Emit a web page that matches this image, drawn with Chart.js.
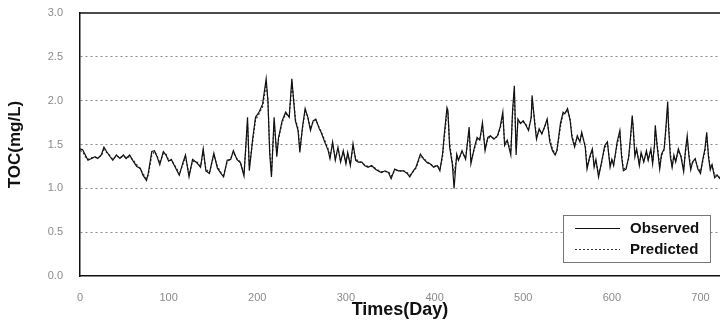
<!DOCTYPE html>
<html>
<head>
<meta charset="utf-8">
<script src="https://cdn.jsdelivr.net/npm/chart.js@4.4.0/dist/chart.umd.min.js"></script>
<style>
  body { margin: 0; background: #fff; }
  #wrap { width: 720px; height: 328px; }
</style>
</head>
<body>
<div id="wrap"><canvas id="tocChart" width="720" height="328"></canvas></div>
<script>
const days = [0,3,6,9,13,17,20,24,27,30,34,37,41,45,49,52,56,60,64,68,71,75,77,81,84,87,90,94,97,100,
  103,107,110,112,116,119,123,127,132,136,139,142,146,151,155,159,162,166,170,173,177,181,185,189,191,195,198,202,206,210,
  212,214,216,219,222,224,228,232,236,239,241,243,246,248,251,254,257,260,263,266,270,272,276,280,282,285,288,291,294,297,
  300,302,305,308,311,314,318,321,325,329,333,336,340,344,348,351,355,359,363,365,369,372,376,379,382,384,388,392,395,399,
  403,406,409,411,414,415,417,420,422,425,427,431,435,439,441,445,448,451,454,457,460,463,467,471,474,477,479,482,486,488,
  490,492,494,497,500,503,506,509,510,513,515,518,521,524,527,530,533,536,538,542,545,547,550,553,555,558,561,564,566,570,
  572,575,578,580,582,585,588,592,595,598,600,602,606,609,611,613,616,619,621,623,624,626,628,631,633,636,639,641,644,646,
  648,649,651,654,656,659,661,663,664,666,668,670,672,675,678,681,683,685,687,689,691,694,697,700,702,705,707,709,711,713,
  716,719,721,724];

const observed = [1.45,1.44,1.38,1.32,1.34,1.36,1.34,1.38,1.47,1.42,1.36,1.32,1.38,1.34,1.38,1.34,1.38,1.31,1.25,1.23,1.15,1.09,1.17,1.42,1.43,1.36,1.27,1.42,1.38,1.31,
  1.33,1.25,1.19,1.15,1.29,1.38,1.13,1.33,1.29,1.24,1.45,1.20,1.17,1.40,1.23,1.17,1.13,1.32,1.33,1.43,1.33,1.29,1.14,1.81,1.20,1.58,1.81,1.87,1.96,2.25,
  2.00,1.40,1.13,1.81,1.36,1.58,1.77,1.87,1.81,2.25,2.00,1.77,1.66,1.41,1.70,1.91,1.81,1.66,1.77,1.79,1.68,1.64,1.53,1.43,1.34,1.53,1.32,1.47,1.30,1.43,
  1.28,1.41,1.26,1.51,1.32,1.30,1.30,1.26,1.24,1.26,1.22,1.20,1.18,1.20,1.18,1.11,1.22,1.20,1.20,1.20,1.17,1.13,1.20,1.24,1.33,1.39,1.33,1.29,1.28,1.24,
  1.26,1.20,1.39,1.62,1.92,1.89,1.47,1.28,1.00,1.39,1.32,1.43,1.33,1.70,1.28,1.47,1.58,1.55,1.75,1.43,1.58,1.60,1.56,1.60,1.70,1.87,1.49,1.55,1.38,1.89,
  2.17,1.38,1.79,1.74,1.77,1.72,1.66,1.81,2.06,1.74,1.56,1.68,1.62,1.70,1.79,1.53,1.43,1.38,1.43,1.74,1.87,1.85,1.91,1.77,1.58,1.47,1.60,1.53,1.64,1.47,
  1.22,1.36,1.45,1.24,1.33,1.13,1.28,1.49,1.53,1.24,1.33,1.26,1.53,1.66,1.36,1.20,1.22,1.36,1.58,1.83,1.70,1.36,1.45,1.26,1.41,1.30,1.43,1.32,1.45,1.28,
  1.49,1.72,1.49,1.22,1.39,1.45,1.70,1.99,1.70,1.36,1.24,1.38,1.30,1.45,1.36,1.19,1.43,1.60,1.36,1.21,1.30,1.34,1.22,1.17,1.30,1.45,1.64,1.36,1.21,1.27,
  1.12,1.15,1.12,1.09];

const predicted = [1.43,1.42,1.36,1.33,1.35,1.35,1.35,1.37,1.44,1.41,1.37,1.33,1.37,1.35,1.37,1.35,1.36,1.32,1.27,1.22,1.17,1.11,1.15,1.38,1.42,1.37,1.29,1.40,1.39,1.32,
  1.32,1.26,1.21,1.16,1.27,1.36,1.16,1.31,1.30,1.25,1.42,1.22,1.18,1.38,1.25,1.18,1.15,1.30,1.34,1.41,1.34,1.30,1.17,1.74,1.25,1.55,1.78,1.85,1.93,2.18,
  2.02,1.45,1.16,1.75,1.40,1.56,1.75,1.85,1.82,2.19,2.03,1.79,1.68,1.45,1.68,1.88,1.82,1.68,1.76,1.78,1.69,1.65,1.55,1.45,1.36,1.50,1.34,1.45,1.32,1.41,
  1.30,1.39,1.28,1.47,1.34,1.31,1.29,1.27,1.25,1.25,1.23,1.21,1.19,1.19,1.19,1.14,1.20,1.21,1.19,1.20,1.18,1.15,1.19,1.23,1.31,1.37,1.34,1.30,1.28,1.25,
  1.26,1.22,1.36,1.58,1.86,1.88,1.52,1.30,1.18,1.35,1.33,1.41,1.35,1.65,1.32,1.45,1.56,1.56,1.70,1.46,1.56,1.59,1.57,1.59,1.68,1.82,1.53,1.54,1.42,1.84,
  2.10,1.45,1.76,1.75,1.76,1.73,1.68,1.79,2.00,1.77,1.59,1.66,1.63,1.69,1.77,1.56,1.45,1.39,1.42,1.70,1.85,1.86,1.89,1.79,1.61,1.49,1.58,1.54,1.62,1.49,
  1.26,1.34,1.43,1.27,1.32,1.16,1.27,1.46,1.52,1.27,1.32,1.27,1.50,1.63,1.39,1.23,1.22,1.34,1.55,1.78,1.72,1.40,1.44,1.28,1.39,1.31,1.41,1.33,1.43,1.30,
  1.47,1.67,1.52,1.25,1.37,1.44,1.66,1.92,1.74,1.40,1.26,1.36,1.31,1.43,1.37,1.22,1.40,1.56,1.39,1.24,1.29,1.33,1.24,1.19,1.28,1.42,1.60,1.39,1.24,1.26,
  1.15,1.15,1.13,1.11];

const xTicks = [0, 100, 200, 300, 400, 500, 600, 700];
const yTicks = [0, 0.5, 1.0, 1.5, 2.0, 2.5, 3.0];

const tickColor = '#8a8a8a';
const tickFont = { family: 'Liberation Sans, Arial, sans-serif', size: 11 };
const titleFont = { family: 'Liberation Sans, Arial, sans-serif', weight: 'bold' };

// top frame line + boxed legend in the lower right of the plot
const framePlugin = {
  id: 'frame',
  afterDraw(chart) {
    const { ctx, chartArea } = chart;
    ctx.save();
    ctx.strokeStyle = '#111';
    ctx.lineWidth = 1.5;
    ctx.beginPath();
    ctx.moveTo(chartArea.left, chartArea.top);
    ctx.lineTo(chartArea.right, chartArea.top);
    ctx.stroke();

    const bx = chartArea.right - 157, by = chartArea.bottom - 61;
    ctx.fillStyle = '#fff';
    ctx.fillRect(bx, by, 147, 47);
    ctx.strokeStyle = '#777';
    ctx.lineWidth = 1;
    ctx.strokeRect(bx + 0.5, by + 0.5, 147, 47);

    chart.data.datasets.forEach((ds, i) => {
      const ly = by + 13 + i * 21;
      ctx.strokeStyle = ds.borderColor;
      ctx.lineWidth = 1;
      ctx.setLineDash(ds.borderDash || []);
      ctx.beginPath();
      ctx.moveTo(bx + 12, ly + 0.5);
      ctx.lineTo(bx + 57, ly + 0.5);
      ctx.stroke();
      ctx.setLineDash([]);
      ctx.fillStyle = '#111';
      ctx.font = 'bold 15px "Liberation Sans", Arial, sans-serif';
      ctx.textBaseline = 'middle';
      ctx.fillText(ds.label, bx + 67, ly + 1);
    });
    ctx.restore();
  }
};

new Chart(document.getElementById('tocChart'), {
  type: 'line',
  data: {
    datasets: [
      {
        label: 'Observed',
        data: days.map((d, i) => ({ x: d, y: observed[i] })),
        borderColor: '#111',
        borderWidth: 1.2,
        pointRadius: 0,
        pointHoverRadius: 0,
        tension: 0
      },
      {
        label: 'Predicted',
        data: days.map((d, i) => ({ x: d, y: predicted[i] })),
        borderColor: '#333',
        borderWidth: 1.2,
        borderDash: [2, 2],
        pointRadius: 0,
        pointHoverRadius: 0,
        tension: 0
      }
    ]
  },
  options: {
    responsive: false,
    animation: false,
    layout: { autoPadding: false, padding: { top: 13, right: 0, left: 0, bottom: 0 } },
    plugins: { legend: { display: false }, tooltip: { enabled: false } },
    scales: {
      x: {
        type: 'linear',
        min: 0,
        max: 722,
        afterBuildTicks: s => { s.ticks = xTicks.map(v => ({ value: v })); },
        afterFit: s => { s.height = 52; s.paddingRight = 0; },
        grid: { display: false, drawTicks: false },
        border: { display: true, color: '#111', width: 1.5 },
        ticks: { color: tickColor, font: tickFont, padding: 15, maxRotation: 0 },
        title: { display: true, text: 'Times(Day)', color: '#111', font: { ...titleFont, size: 18 }, padding: { top: 0, bottom: 7 } }
      },
      y: {
        min: 0,
        max: 3,
        afterBuildTicks: s => { s.ticks = yTicks.map(v => ({ value: v })); },
        afterFit: s => { s.width = 80; s.paddingTop = 0; },
        grid: {
          drawTicks: false,
          color: c => (c.tick && (c.tick.value === 0 || c.tick.value === 3)) ? 'rgba(0,0,0,0)' : '#888',
          lineWidth: 1
        },
        border: { display: true, color: '#111', width: 1.5, dash: [2, 3] },
        ticks: { color: tickColor, font: tickFont, padding: 17, callback: v => v.toFixed(1) },
        title: { display: true, text: 'TOC(mg/L)', color: '#111', font: { ...titleFont, size: 17 }, padding: { top: 5, bottom: 0 } }
      }
    }
  },
  plugins: [framePlugin]
});
</script>
</body>
</html>
